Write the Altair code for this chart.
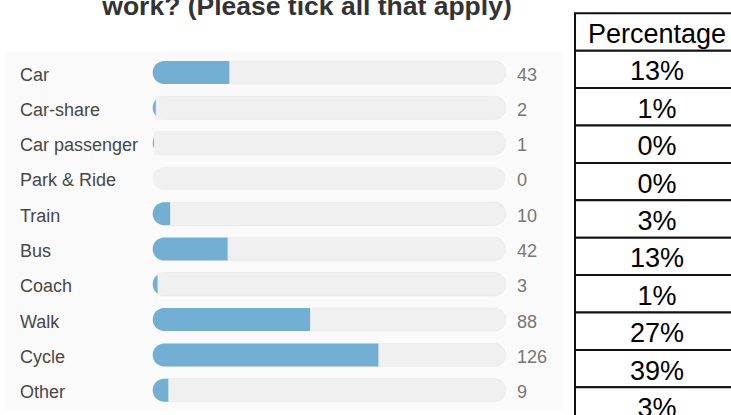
import altair as alt
import pandas as pd

# ---- data ----
modes = ["Car", "Car-share", "Car passenger", "Park & Ride", "Train",
         "Bus", "Coach", "Walk", "Cycle", "Other"]
counts = [43, 2, 1, 0, 10, 42, 3, 88, 126, 9]
table_header = "Percentage"
percentages = ["13%", "1%", "0%", "0%", "3%", "13%", "1%", "27%", "39%", "3%"]
title_text = "work? (Please tick all that apply)"
TRACK_MAX = 196.5

BLUE = "#72afd2"
TRACK = "#f0f0f0"
FONT = "Liberation Sans, Arial, sans-serif"

bars_df = pd.DataFrame({"mode": modes, "count": counts})
table_df = pd.DataFrame({
    "row": list(range(len(percentages) + 1)),
    "label": [table_header] + percentages,
})

xs = alt.Scale(domain=[0, TRACK_MAX], range=[152.7, 505.5], nice=False, zero=False)
ys = alt.Scale(range=[54.85, 407.85], paddingInner=0, paddingOuter=0)
Y = alt.Y("mode:N", sort=modes, scale=ys, axis=None)

panel = alt.Chart(alt.Data(values=[{}])).mark_rect(color="#fafafa").encode(
    x=alt.value(5), x2=alt.value(563), y=alt.value(52), y2=alt.value(410)
)

title = alt.Chart(alt.Data(values=[{}])).mark_text(
    text=title_text, font=FONT, fontSize=26.5, fontWeight="bold",
    color="#333333", align="center", baseline="alphabetic"
).encode(x=alt.value(307), y=alt.value(15))

base = alt.Chart(bars_df)

track = base.mark_bar(color=TRACK, size=23, cornerRadius=11.5).encode(
    x=alt.X("zero:Q", scale=xs, axis=None), x2=alt.X2("full:Q"), y=Y
).transform_calculate(zero="0", full=str(TRACK_MAX))

blue = base.transform_filter("datum.count > 0").transform_calculate(
    zero="0", full=str(TRACK_MAX)
).mark_bar(color=BLUE, size=23, cornerRadius=11.5).encode(
    x=alt.X("zero:Q", scale=xs, axis=None), x2=alt.X2("full:Q"), y=Y
)

overlay = base.transform_filter("datum.count > 0").transform_calculate(
    full=str(TRACK_MAX)
).mark_bar(color=TRACK, size=23, cornerRadiusTopRight=11.5,
           cornerRadiusBottomRight=11.5, stroke=TRACK, strokeWidth=1).encode(
    x=alt.X("count:Q", scale=xs, axis=None), x2=alt.X2("full:Q"), y=Y
)

labels = base.mark_text(align="left", baseline="alphabetic", dy=8,
                        font=FONT, fontSize=18, color="#474747").encode(
    x=alt.value(20), y=Y, text="mode:N"
)

values = base.mark_text(align="left", baseline="alphabetic", dy=8,
                        font=FONT, fontSize=18, color="#777777").encode(
    x=alt.value(517), y=Y, text="count:Q"
)

bars_layer = alt.layer(track, blue, overlay, labels, values)

ts = alt.Scale(range=[13.3, 13.3 + 11 * 37.4], paddingInner=0, paddingOuter=0)
TY = alt.Y("row:O", scale=ts, axis=None)
tbase = alt.Chart(table_df)
cells = tbase.mark_rect(fill="white", stroke="#111111", strokeWidth=2).encode(
    x=alt.value(575), x2=alt.value(745), y=TY
)
ttext = tbase.mark_text(align="center", baseline="alphabetic", dy=11,
                        font=FONT, fontSize=27, color="#000000").encode(
    x=alt.value(657), y=TY, text="label:N"
)
table_layer = alt.layer(cells, ttext)

chart = alt.layer(panel, title, bars_layer, table_layer).resolve_scale(
    y="independent"
).properties(
    width=731, height=415, padding=0,
    autosize=alt.AutoSizeParams(type="none"),
    background="white",
).configure_view(stroke=None)

chart.save("out.html", embed_options={"renderer": "svg", "actions": False})
